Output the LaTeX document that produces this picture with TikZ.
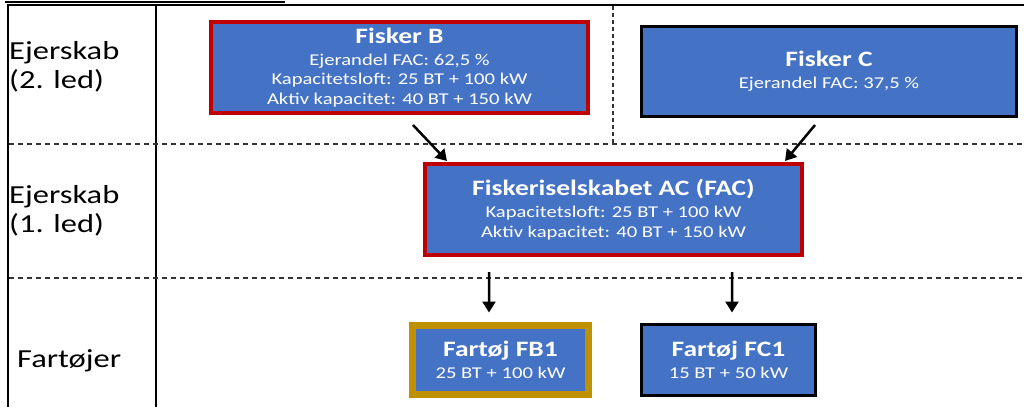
\documentclass[tikz,border=0pt]{standalone}
\usepackage{fontspec}
\setmainfont[FakeStretch=1.25]{Carlito}
\usetikzlibrary{arrows.meta,calc}
\definecolor{boxblue}{HTML}{4472C4}
\definecolor{boxred}{HTML}{C00000}
\definecolor{boxgold}{HTML}{BF9000}
\definecolor{dashgray}{HTML}{333333}
\tikzset{
  box/.style={draw, fill=boxblue, text=white, align=center, inner sep=0pt, outer sep=0pt, rectangle,
    font=\fontsize{16.5bp}{19.5bp}\selectfont},
  redbox/.style={box, draw=boxred, line width=4bp},
  blackbox/.style={box, draw=black, line width=3bp},
  goldbox/.style={box, draw=boxgold, line width=7bp},
  rowlabel/.style={anchor=base west, inner sep=0pt, font=\fontsize{26bp}{30bp}\selectfont},
  sep/.style={dashgray, line width=1.2bp, dash pattern=on 5bp off 4bp},
  frame/.style={black, line width=2bp},
  arr/.style={line width=2.5bp, -{Triangle[width=13bp,length=11bp]}},
}
\newcommand{\ttl}[1]{{\fontsize{22bp}{24bp}\selectfont\bfseries #1}}
\begin{document}
\begin{tikzpicture}[x=1bp,y=-1bp]
\useasboundingbox (0,0) rectangle (1024,407);
% frame
\draw[black, line width=2bp] (5,1.5) -- (285,1.5);
\draw[black, line width=1.5bp] (7,5) -- (1024,5);
\draw[frame] (8,5) -- (8,407);
\draw[frame] (155.5,5) -- (155.5,407);
% separators
\draw[sep] (9,144) -- (1024,144);
\draw[sep] (9,278) -- (1024,278);
\draw[sep, dash pattern=on 4bp off 3bp] (613,6) -- (613,144);
% row labels
\node[rowlabel] (l2a) at (9,59) {Ejerskab};
\node[rowlabel] (l2b) at (9,88) {(2. led)};
\node[rowlabel] (l1a) at (9,203) {Ejerskab};
\node[rowlabel] (l1b) at (9,232) {(1. led)};
\node[rowlabel] (lf) at (17,367) {Fartøjer};
% boxes
\node[redbox, minimum width=377bp, minimum height=91bp] (fb) at (399.5,67.5)
  {\ttl{Fisker B}\\[2.5bp]Ejerandel FAC: 62,5 \%\\Kapacitetsloft: 25 BT + 100 kW\\Aktiv kapacitet: 40 BT + 150 kW};
\node[blackbox, minimum width=375bp, minimum height=90bp] (fc) at (829,71.5)
  {\ttl{Fisker C}\\[2.5bp]Ejerandel FAC: 37,5 \%};
\node[redbox, minimum width=377bp, minimum height=91bp] (fac) at (613.5,209.5)
  {\ttl{Fiskeriselskabet AC (FAC)}\\[2.5bp]Kapacitetsloft: 25 BT + 100 kW\\Aktiv kapacitet: 40 BT + 150 kW};
\node[goldbox, minimum width=176bp, minimum height=69bp] (fb1) at (500.5,360)
  {\ttl{Fartøj FB1}\\[2.5bp]25 BT + 100 kW};
\node[blackbox, minimum width=174bp, minimum height=71bp] (fc1) at (728.5,360)
  {\ttl{Fartøj FC1}\\[2.5bp]15 BT + 50 kW};
% arrows
\draw[arr] ([xshift=13.5bp,yshift=-12bp]fb.south) -- ([xshift=-166.5bp,yshift=3bp]fac.north);
\draw[arr] ([xshift=-14bp,yshift=-8.5bp]fc.south) -- ([xshift=171.5bp,yshift=3bp]fac.north);
\draw[arr] ([xshift=-124.5bp,yshift=-17bp]fac.south) -- ([xshift=-11.5bp,yshift=13bp]fb1.north);
\draw[arr] ([xshift=118.5bp,yshift=-17bp]fac.south) -- ([xshift=3.5bp,yshift=12bp]fc1.north);
\end{tikzpicture}
\end{document}
